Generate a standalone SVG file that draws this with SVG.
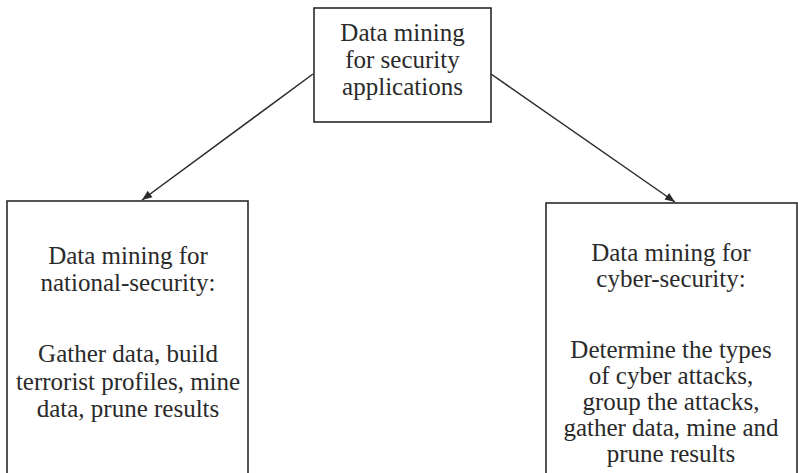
<svg xmlns="http://www.w3.org/2000/svg" width="798" height="473" viewBox="0 0 798 473">
<defs>
<marker id="arr" viewBox="0 0 10 10" refX="10" refY="5" markerWidth="12" markerHeight="10" markerUnits="userSpaceOnUse" orient="auto">
<path d="M0,1 L10,5 L0,9 z" fill="#2a2a2a"/>
</marker>
</defs>
<style>
.box{fill:#fff;stroke:#2a2a2a;stroke-width:1.6}
.t{font-family:"Liberation Serif","Times New Roman",serif;font-size:25px;fill:#2a2a2a;text-anchor:middle}
.c{stroke:#2a2a2a;stroke-width:1.5;fill:none}
</style>
<rect width="798" height="473" fill="#fff"/>
<g id="connectors">
<line class="c" x1="313" y1="74" x2="142" y2="200" marker-end="url(#arr)"/>
<line class="c" x1="491" y1="74" x2="675" y2="202" marker-end="url(#arr)"/>
</g>
<g id="top">
<rect class="box" x="314" y="8" width="177" height="114"/>
<text class="t" x="402.5" y="41">Data mining</text>
<text class="t" x="402.5" y="68">for security</text>
<text class="t" x="402.5" y="95">applications</text>
</g>
<g id="national">
<rect class="box" x="7" y="201" width="241" height="290"/>
<text class="t" x="128" y="264">Data mining for</text>
<text class="t" x="128" y="291">national-security:</text>
<text class="t" x="128" y="362">Gather data, build</text>
<text class="t" x="128" y="390">terrorist profiles, mine</text>
<text class="t" x="128" y="417">data, prune results</text>
</g>
<g id="cyber">
<rect class="box" x="546" y="203" width="251" height="290"/>
<text class="t" x="671" y="261">Data mining for</text>
<text class="t" x="671" y="287">cyber-security:</text>
<text class="t" x="671" y="358">Determine the types</text>
<text class="t" x="671" y="384">of cyber attacks,</text>
<text class="t" x="671" y="410">group the attacks,</text>
<text class="t" x="671" y="436">gather data, mine and</text>
<text class="t" x="671" y="462">prune results</text>
</g>
</svg>
